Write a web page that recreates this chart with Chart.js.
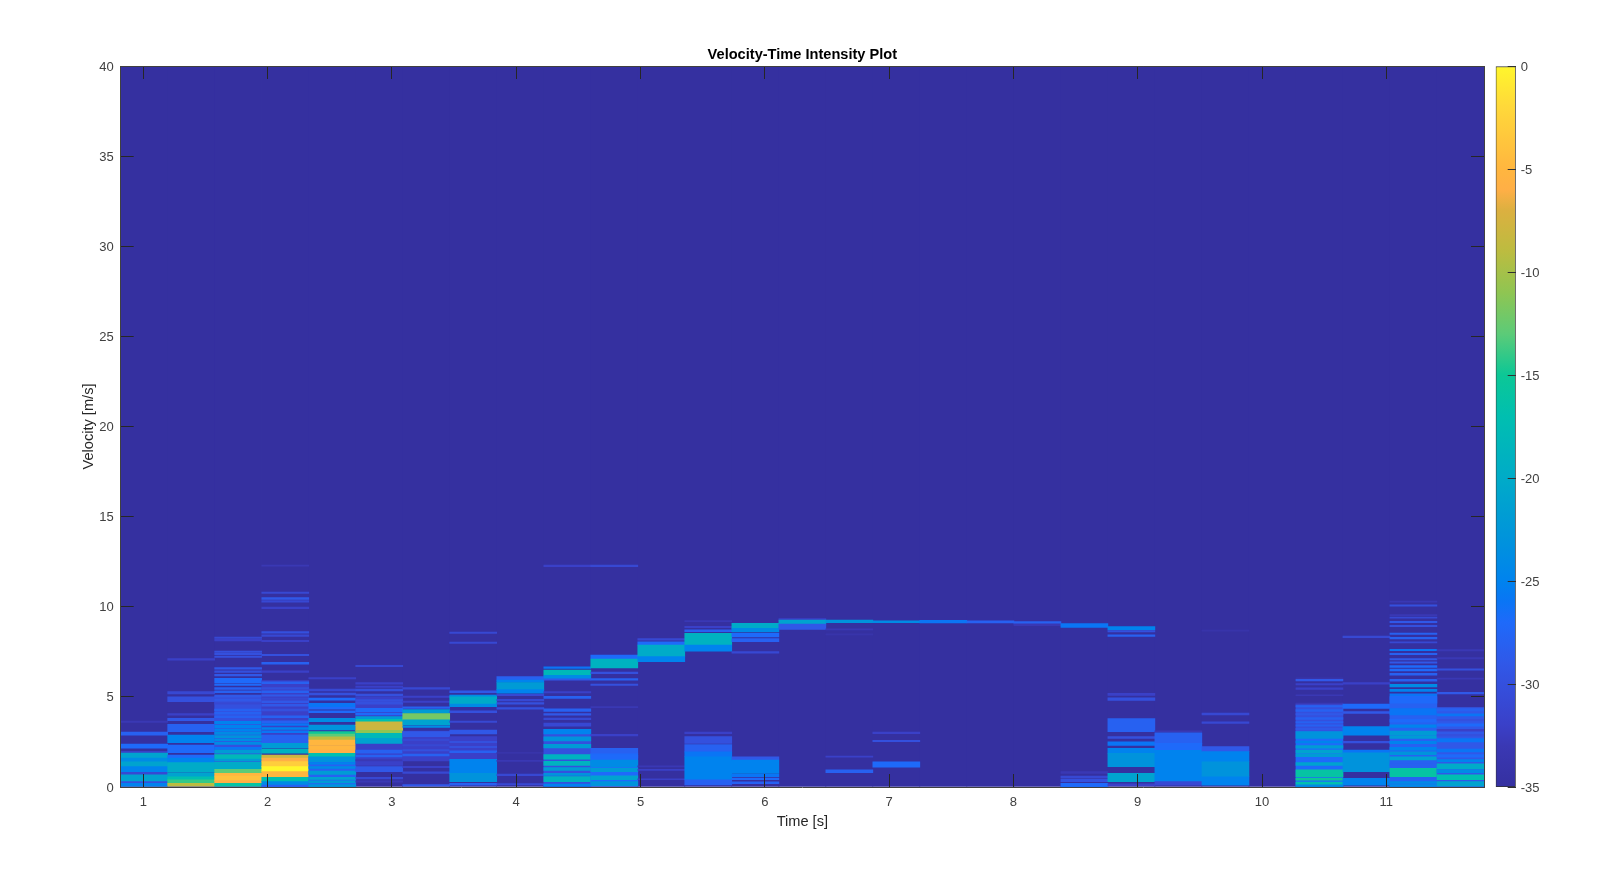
<!DOCTYPE html>
<html lang="en">
<head>
  <meta charset="UTF-8" />
  <title>Velocity-Time Intensity Plot</title>
  <script src="https://cdn.jsdelivr.net/npm/chart.js"></script>
  <style>
    body { margin: 0; background: #fff; }
    canvas { position: absolute; top: 0; filter: blur(0.45px); }
    #mainChart { left: 0; }
    #barChart { left: 1480px; }
  </style>
</head>
<body>
  <canvas id="mainChart" width="1600" height="885"></canvas>
  <canvas id="barChart" width="120" height="885"></canvas>

  <script>
    // column centres of the spectrogram [s]
    const times = [1.007, 1.385, 1.763, 2.142, 2.520, 2.898, 3.276, 3.654, 4.033, 4.411,
      4.789, 5.167, 5.545, 5.924, 6.302, 6.680, 7.058, 7.436, 7.815, 8.193,
      8.571, 8.949, 9.327, 9.706, 10.084, 10.462, 10.840, 11.218, 11.597];

    const xTicks = [1, 2, 3, 4, 5, 6, 7, 8, 9, 10, 11];
    const yTicks = [0, 5, 10, 15, 20, 25, 30, 35, 40];
    const barTicks = [-35, -30, -25, -20, -15, -10, -5, 0];

    // colormap stops [dB, colour]
    const colorStops = [
      [-35, [53, 48, 160]], [-33, [58, 56, 180]], [-32, [58, 64, 200]], [-30, [52, 80, 222]],
      [-29, [48, 88, 232]], [-27, [30, 106, 250]], [-26, [10, 117, 245]], [-25, [0, 131, 238]],
      [-23, [0, 147, 220]], [-20, [0, 171, 200]], [-17, [0, 191, 176]], [-15, [12, 199, 150]],
      [-13, [92, 203, 120]], [-11, [143, 197, 82]], [-9, [188, 188, 64]], [-7, [220, 176, 64]],
      [-6, [255, 175, 70]], [-5, [255, 182, 63]], [-2, [255, 216, 58]], [0, [255, 246, 44]]
    ];

    // every column: [from m/s, to m/s, dB], anything not listed stays at -35
    const col01 = [[3.58, 3.66, -33], [2.88, 3.05, -28], [2.15, 2.38, -27], [1.9, 1.98, -32], [1.6, 1.88, -21], [1.4, 1.6, -24], [1.13, 1.4, -21], [0.81, 1.13, -25], [0.67, 0.81, -31], [0.3, 0.67, -21], [0.2, 0.3, -30], [0.04, 0.2, -25]];
    const col02 = [[7.04, 7.12, -32], [5.16, 5.29, -31], [4.73, 5.0, -30], [3.98, 4.08, -32], [3.68, 3.81, -29], [3.07, 3.47, -28], [2.46, 2.88, -25], [1.9, 2.33, -27], [1.6, 1.77, -27], [1.35, 1.6, -25], [0.85, 1.35, -20], [0.57, 0.8, -21], [0.4, 0.57, -17], [0.2, 0.4, -14], [0.05, 0.2, -9]];
    const col03 = [[1.4, 5.0, -30], [8.24, 8.32, -31], [8.11, 8.19, -32], [7.46, 7.54, -30], [7.34, 7.42, -30], [7.19, 7.27, -30], [6.54, 6.62, -29], [6.36, 6.44, -30], [6.16, 6.25, -29], [5.79, 6.03, -27], [5.64, 5.73, -27], [5.42, 5.52, -28], [5.24, 5.33, -28], [5.0, 5.1, -29], [4.77, 4.87, -29], [4.6, 4.68, -31], [4.22, 4.32, -28], [4.04, 4.14, -28], [3.85, 3.95, -28], [3.5, 3.64, -25], [3.28, 3.42, -25], [3.1, 3.22, -25], [2.92, 3.04, -24], [2.73, 2.85, -23], [2.55, 2.67, -24], [2.36, 2.48, -24], [2.08, 2.2, -26], [1.87, 2.05, -22], [1.55, 1.8, -18], [1.44, 1.55, -22], [0.98, 1.38, -20], [0.76, 0.98, -13], [0.6, 0.76, -5], [0.35, 0.6, -4], [0.2, 0.35, -6], [0.05, 0.2, -16]];
    const col04 = [[2.9, 5.9, -32], [12.25, 12.31, -33], [10.74, 10.82, -31], [10.41, 10.51, -29], [10.26, 10.34, -31], [9.9, 9.98, -32], [8.54, 8.62, -30], [8.36, 8.44, -31], [8.06, 8.14, -32], [7.28, 7.36, -30], [6.81, 6.91, -28], [6.36, 6.44, -32], [5.73, 5.83, -28], [5.43, 5.51, -30], [5.23, 5.33, -28], [5.04, 5.12, -29], [4.86, 4.94, -31], [4.68, 4.78, -29], [4.49, 4.59, -29], [4.22, 4.32, -30], [3.85, 3.95, -28], [3.57, 3.67, -28], [3.42, 3.52, -26], [3.2, 3.3, -25], [3.02, 3.12, -26], [2.46, 2.88, -28], [2.15, 2.42, -22], [1.87, 2.09, -19], [1.6, 1.77, -8], [1.41, 1.6, -6], [1.13, 1.41, -3], [0.85, 1.13, 0], [0.57, 0.85, -5], [0.3, 0.54, -17], [0.1, 0.3, -24], [0.02, 0.1, -28]];
    const col05 = [[0.02, 1.68, -28], [5.99, 6.07, -32], [5.33, 5.43, -31], [5.11, 5.21, -30], [4.82, 4.94, -27], [4.46, 4.64, -26], [4.32, 4.42, -27], [4.13, 4.23, -27], [3.62, 3.81, -24], [3.16, 3.44, -23], [2.93, 3.07, -15], [2.79, 2.93, -13], [2.6, 2.79, -9], [2.3, 2.6, -5], [2.05, 2.3, -5], [1.87, 2.05, -6], [1.68, 1.87, -17], [1.4, 1.68, -23], [1.26, 1.36, -25], [1.03, 1.13, -24], [0.7, 0.88, -22], [0.42, 0.54, -21], [0.22, 0.34, -22], [0.02, 0.14, -23]];
    const col06 = [[1.2, 5.0, -32], [6.67, 6.75, -31], [5.71, 5.79, -32], [5.52, 5.6, -32], [5.33, 5.43, -30], [5.05, 5.15, -30], [4.75, 4.85, -30], [4.6, 4.7, -30], [4.18, 4.36, -27], [4.0, 4.1, -27], [3.76, 3.9, -22], [3.62, 3.76, -17], [3.4, 3.62, -8], [3.14, 3.4, -8], [2.98, 3.14, -11], [2.7, 2.98, -18], [2.42, 2.7, -21], [1.87, 2.05, -28], [1.67, 1.77, -28], [1.45, 1.52, -33], [0.85, 1.13, -29], [0.45, 0.53, -31], [0.27, 0.34, -33]];
    const col07 = [[1.5, 3.1, -32], [5.43, 5.51, -31], [4.97, 5.05, -32], [4.69, 4.77, -32], [4.36, 4.45, -28], [4.08, 4.3, -22], [3.72, 4.08, -12], [3.44, 3.72, -21], [3.3, 3.4, -24], [2.79, 3.07, -29], [2.57, 2.65, -31], [2.28, 2.36, -31], [2.0, 2.08, -30], [1.72, 1.82, -28], [1.45, 1.53, -32], [1.07, 1.15, -32], [0.76, 0.84, -31], [0.06, 0.14, -29]];
    const col08 = [[8.52, 8.6, -31], [7.96, 8.04, -31], [5.23, 5.33, -29], [5.0, 5.1, -24], [4.6, 5.0, -20], [4.45, 4.6, -24], [4.13, 4.23, -30], [3.58, 3.66, -31], [2.94, 3.16, -29], [1.5, 2.8, -32], [2.46, 2.54, -30], [2.18, 2.26, -30], [1.9, 2.0, -28], [0.76, 1.53, -25], [0.3, 0.76, -23], [0.1, 0.2, -28]];
    const col09 = [[5.93, 6.12, -28], [5.8, 5.93, -25], [5.4, 5.8, -22], [5.2, 5.4, -25], [5.06, 5.14, -31], [4.78, 4.86, -31], [4.6, 4.68, -30], [4.32, 4.4, -30], [1.86, 1.92, -34], [1.42, 1.48, -33], [0.63, 0.71, -31], [0.11, 0.19, -31]];
    const col10 = [[0.02, 3.2, -30], [12.23, 12.31, -32], [6.58, 6.67, -26], [6.2, 6.49, -18], [6.0, 6.2, -24], [5.92, 6.0, -29], [5.22, 5.3, -32], [4.91, 5.03, -28], [4.2, 4.34, -28], [3.98, 4.08, -29], [3.74, 3.82, -31], [3.38, 3.54, -31], [2.95, 3.2, -25], [2.55, 2.78, -23], [2.17, 2.37, -22], [1.55, 1.8, -19], [1.2, 1.42, -19], [0.92, 1.08, -22], [0.64, 0.76, -23], [0.3, 0.58, -19], [0.04, 0.16, -25]];
    const col11 = [[0.05, 1.87, -27], [12.22, 12.31, -31], [7.1, 7.32, -27], [6.6, 7.1, -19], [6.29, 6.38, -30], [5.92, 6.02, -28], [5.63, 5.71, -30], [4.4, 4.46, -33], [2.84, 2.92, -32], [1.87, 2.14, -28], [1.6, 1.77, -27], [1.13, 1.5, -24], [0.85, 1.05, -22], [0.4, 0.62, -21], [0.08, 0.3, -23]];
    const col12 = [[8.15, 8.23, -31], [7.87, 8.06, -27], [7.23, 7.87, -20], [6.95, 7.23, -25], [1.12, 1.18, -33], [0.92, 0.98, -32], [0.4, 0.46, -32]];
    const col13 = [[9.17, 9.23, -33], [8.84, 8.92, -32], [8.62, 8.72, -28], [7.87, 8.52, -19], [7.54, 7.87, -25], [2.96, 3.04, -32], [2.42, 2.8, -30], [1.95, 2.35, -28], [1.68, 1.95, -26], [0.4, 1.68, -25], [0.11, 0.4, -28]];
    const col14 = [[8.8, 9.08, -20], [8.6, 8.8, -24], [8.33, 8.52, -27], [8.06, 8.24, -28], [7.43, 7.51, -31], [1.5, 1.68, -29], [0.76, 1.5, -25], [0.58, 0.7, -26], [0.4, 0.5, -27], [0.18, 0.28, -28]];
    const col15 = [[9.26, 9.35, -32], [9.04, 9.26, -21], [8.74, 9.04, -29]];
    const col16 = [[9.11, 9.26, -23], [8.72, 8.78, -33], [8.44, 8.5, -34], [1.65, 1.72, -32], [0.8, 0.95, -28]];
    const col17 = [[9.11, 9.22, -24], [2.96, 3.04, -32], [2.51, 2.59, -30], [1.1, 1.4, -27]];
    const col18 = [[9.1, 9.25, -26]];
    const col19 = [[9.1, 9.22, -28]];
    const col20 = [[9.05, 9.18, -28], [8.95, 9.05, -33]];
    const col21 = [[8.85, 9.07, -26], [0.75, 0.85, -33], [0.5, 0.6, -31], [0.3, 0.44, -30], [0.02, 0.2, -27]];
    const col22 = [[8.72, 8.9, -25], [8.6, 8.68, -30], [8.36, 8.44, -28], [5.08, 5.2, -32], [4.8, 4.95, -30], [3.07, 3.8, -28], [2.7, 2.8, -30], [2.3, 2.5, -26], [1.87, 2.15, -25], [1.13, 1.87, -23], [0.3, 0.76, -21], [0.08, 0.18, -32]];
    const col23 = [[3.06, 3.12, -33], [2.42, 3.0, -28], [2.04, 2.42, -27], [0.3, 2.04, -25], [0.1, 0.3, -31]];
    const col24 = [[8.64, 8.7, -34], [4.0, 4.1, -31], [3.53, 3.61, -31], [1.96, 2.24, -29], [1.4, 1.96, -25], [0.57, 1.4, -23], [0.1, 0.57, -25]];
    const col25 = [];
    const col26 = [[0.02, 3.1, -27], [3.1, 4.6, -30], [6.0, 6.06, -34], [5.89, 5.97, -29], [5.66, 5.74, -32], [5.42, 5.5, -32], [5.06, 5.12, -33], [4.6, 4.66, -33], [4.44, 4.52, -28], [4.2, 4.3, -28], [4.0, 4.08, -29], [3.75, 3.85, -28], [3.55, 3.63, -28], [3.37, 3.45, -28], [3.17, 3.25, -29], [2.7, 3.07, -23], [2.45, 2.55, -25], [2.15, 2.3, -22], [1.87, 2.05, -21], [1.68, 1.83, -22], [1.2, 1.35, -21], [0.57, 0.95, -16], [0.38, 0.5, -15], [0.15, 0.27, -17], [0.02, 0.1, -24]];
    const col27 = [[8.29, 8.37, -31], [5.71, 5.79, -32], [4.36, 4.6, -27], [4.08, 4.18, -29], [2.88, 3.35, -25], [2.44, 2.54, -30], [1.9, 2.05, -26], [0.85, 1.9, -23], [0.1, 0.48, -25]];
    const col28 = [[0.02, 5.0, -28], [10.25, 10.31, -33], [10.03, 10.11, -30], [9.5, 9.56, -33], [9.36, 9.42, -31], [9.11, 9.19, -29], [8.89, 8.97, -30], [8.46, 8.54, -28], [8.22, 8.3, -28], [8.0, 8.06, -31], [7.56, 7.64, -26], [7.34, 7.42, -28], [7.05, 7.13, -29], [6.87, 6.95, -29], [6.63, 6.73, -27], [6.44, 6.54, -27], [6.2, 6.3, -28], [5.87, 5.97, -28], [5.55, 5.69, -24], [5.3, 5.42, -25], [5.05, 5.17, -26], [4.65, 5.03, -27], [4.0, 4.35, -26], [3.6, 3.75, -27], [3.3, 3.45, -25], [2.9, 3.1, -22], [2.7, 2.85, -22], [2.4, 2.54, -25], [2.05, 2.2, -25], [1.8, 1.95, -23], [1.5, 1.68, -21], [1.18, 1.28, -28], [0.57, 1.03, -16], [0.2, 0.3, -24], [0.03, 0.14, -24]];
    const col29 = [[0.02, 4.4, -29], [7.55, 7.63, -33], [7.1, 7.18, -33], [6.48, 6.56, -30], [5.98, 6.04, -33], [5.17, 5.25, -29], [4.22, 4.34, -28], [3.94, 4.06, -26], [3.66, 3.76, -30], [3.38, 3.5, -27], [3.1, 3.2, -32], [2.82, 2.92, -30], [2.5, 2.68, -26], [1.95, 2.1, -26], [1.65, 1.8, -27], [1.4, 1.52, -25], [1.0, 1.28, -20], [0.8, 0.95, -24], [0.4, 0.68, -17], [0.05, 0.3, -21]];

    const columns = [col01, col02, col03, col04, col05, col06, col07, col08, col09, col10,
      col11, col12, col13, col14, col15, col16, col17, col18, col19, col20,
      col21, col22, col23, col24, col25, col26, col27, col28, col29];

    // interpolate a dB value into the colormap
    function dbColor(db) {
      for (let i = 1; i < colorStops.length; i++) {
        const [d0, c0] = colorStops[i - 1];
        const [d1, c1] = colorStops[i];
        if (db <= d1) {
          const f = (db - d0) / (d1 - d0);
          const c = c0.map((v, k) => Math.round(v + (c1[k] - v) * f));
          return `rgb(${c[0]},${c[1]},${c[2]})`;
        }
      }
      return 'rgb(255,246,44)';
    }

    // the -35 dB floor comes first so the bands sit on top of it
    const cells = [];
    times.forEach(t => cells.push({ x: t, y: [0, 40], db: -35 }));
    times.forEach((t, i) => {
      columns[i].forEach(([lo, hi, db]) => cells.push({ x: t, y: [lo, hi], db }));
    });

    const frameColor = '#404040';
    const tickFont = { family: 'Liberation Sans, Arial, sans-serif', size: 13 };
    const labelFont = { family: 'Liberation Sans, Arial, sans-serif', size: 14.6 };
    const inwardGrid = { drawOnChartArea: false, drawTicks: true, tickLength: -13, color: '#262626', z: 1 };
    const frameBorder = { display: true, color: frameColor, width: 1, z: 2 };

    new Chart(document.getElementById('mainChart'), {
      type: 'bar',
      data: {
        datasets: [{
          data: cells,
          backgroundColor: ctx => dbColor(ctx.raw.db),
          borderWidth: 0,
          borderSkipped: false,
          barPercentage: 1,
          categoryPercentage: 1,
          grouped: false
        }]
      },
      options: {
        responsive: false,
        animation: false,
        layout: { padding: 0 },
        plugins: { legend: { display: false }, tooltip: { enabled: false } },
        scales: {
          x: {
            type: 'linear', position: 'bottom', offset: false,
            min: 0.818, max: 11.786,
            afterBuildTicks: s => { s.ticks = xTicks.map(value => ({ value })); },
            afterFit: s => { s.height = 98; },
            grid: { ...inwardGrid, offset: false },
            border: frameBorder,
            ticks: { padding: 21, color: '#404040', font: tickFont, maxRotation: 0 },
            title: { display: true, text: 'Time [s]', color: '#262626', font: labelFont, padding: { top: 0, bottom: 54 } }
          },
          x2: {
            type: 'linear', position: 'top', offset: false,
            min: 0.818, max: 11.786,
            afterBuildTicks: s => { s.ticks = xTicks.map(value => ({ value })); },
            afterFit: s => { s.height = 66; },
            grid: { ...inwardGrid, offset: false },
            border: frameBorder,
            ticks: { display: false },
            title: {
              display: true, text: 'Velocity-Time Intensity Plot', color: '#000',
              font: { ...labelFont, weight: 'bold' }, padding: { top: 46, bottom: 0 }
            }
          },
          y: {
            type: 'linear', position: 'left',
            min: 0, max: 40,
            afterBuildTicks: s => { s.ticks = yTicks.map(value => ({ value })); },
            afterFit: s => { s.width = 120.7; },
            grid: inwardGrid,
            border: frameBorder,
            ticks: { padding: 20, color: '#404040', font: tickFont, labelOffset: 1 },
            title: { display: true, text: 'Velocity [m/s]', color: '#262626', font: labelFont, padding: { top: 80, bottom: 0 } }
          },
          y2: {
            type: 'linear', position: 'right',
            min: 0, max: 40,
            afterBuildTicks: s => { s.ticks = yTicks.map(value => ({ value })); },
            afterFit: s => { s.width = 116; },
            grid: inwardGrid,
            border: frameBorder,
            ticks: { display: false }
          }
        }
      }
    });

    // colorbar is its own little chart: one floating bar with a gradient
    function barGradient(ctx) {
      const area = ctx.chart.chartArea;
      if (!area) return colorStops[0][1];
      const g = ctx.chart.ctx.createLinearGradient(0, area.bottom, 0, area.top);
      colorStops.forEach(([db, c]) => g.addColorStop((db + 35) / 35, `rgb(${c[0]},${c[1]},${c[2]})`));
      return g;
    }

    new Chart(document.getElementById('barChart'), {
      type: 'bar',
      data: {
        labels: [''],
        datasets: [{
          data: [[-35, 0]],
          backgroundColor: barGradient,
          borderColor: '#303030',
          borderWidth: 1,
          borderSkipped: false,
          barPercentage: 1,
          categoryPercentage: 1
        }]
      },
      options: {
        responsive: false,
        animation: false,
        layout: { padding: { left: 15.7, top: 66, bottom: 98, right: 0 } },
        plugins: { legend: { display: false }, tooltip: { enabled: false } },
        scales: {
          x: { display: false },
          y: {
            position: 'right',
            min: -35, max: 0,
            afterBuildTicks: s => { s.ticks = barTicks.map(value => ({ value })); },
            afterFit: s => { s.width = 84.3; },
            grid: { drawOnChartArea: false, drawTicks: true, tickLength: -8, color: '#303030', z: 1 },
            border: { display: false },
            ticks: { padding: 13, color: '#404040', font: tickFont, labelOffset: 1 }
          }
        }
      }
    });
  </script>
</body>
</html>
